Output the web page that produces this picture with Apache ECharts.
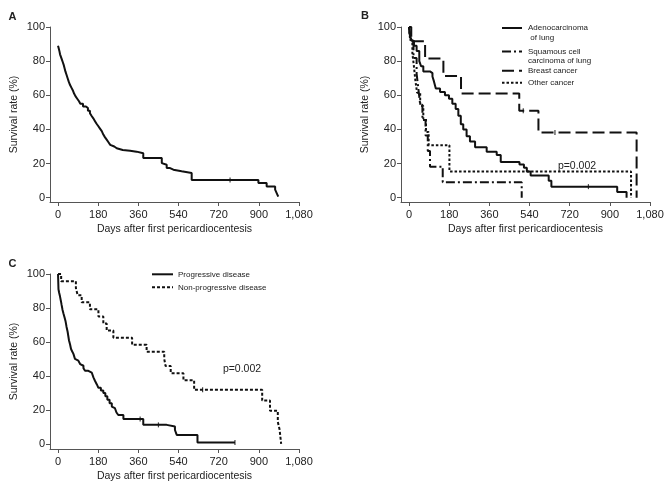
<!DOCTYPE html>
<html>
<head>
<meta charset="utf-8">
<script src="https://cdn.jsdelivr.net/npm/echarts@6/dist/echarts.min.js"></script>
<style>html,body{margin:0;padding:0;background:#fff;}#c{width:670px;height:489px;}</style>
</head>
<body>
<div id="c"></div>
<script>
// ---- tick labels ----
const xTicks = [0, 180, 360, 540, 720, 900, 1080];
const yTicks = [0, 20, 40, 60, 80, 100];

// ---- Panel A: all patients ----
const aDays = [0, 3, 6, 9, 13, 17, 21, 25, 29, 33, 38, 43, 48, 54, 60, 66, 72, 78, 86, 94, 100, 112, 125, 134, 143, 150, 158, 165, 172, 180, 188, 196, 203, 210, 218, 226, 234, 242, 252, 263, 290, 323, 352, 382, 465, 472, 487, 502, 517, 554, 599, 614, 898, 935, 973, 980, 987];
const aSurv = [89, 87.5, 86, 84, 82.5, 81, 79.5, 78, 76, 74, 72, 70, 68, 66, 64.5, 63, 61, 59.5, 58, 56.5, 55, 53.5, 52.5, 51, 49.5, 48, 46.5, 45, 43.5, 42, 40.5, 39, 37, 35.5, 34, 32.5, 31, 30, 29, 28, 27.5, 27, 26, 23.2, 20.3, 19.3, 17.4, 16.4, 15.5, 14.5, 10.4, 10.4, 8.6, 6.6, 4.7, 2.7, 0.6];
const aCensDays = [771];
const aCensSurv = [10.4];

// ---- Panel B: by cancer type ----
const bNames = ['Adenocarcinoma\n of lung', 'Squamous cell\ncarcinoma of lung', 'Breast cancer', 'Other cancer'];
const adenoDays = [0, 4, 12, 22, 34, 46, 54, 64, 94, 105, 112, 120, 139, 161, 179, 194, 209, 221, 232, 243, 258, 273, 296, 348, 393, 411, 495, 515, 528, 545, 626, 638, 933, 975];
const adenoSurv = [100, 95, 92, 89, 86, 80, 77, 74, 73, 71, 68, 64, 62, 60, 58, 55, 52, 48, 43, 40, 36, 33, 29.5, 27, 25, 21, 19.5, 17.5, 15.3, 13, 10, 6.5, 3.3, 0];
const squamDays = [0, 8, 20, 34, 42, 50, 60, 74, 84, 94, 151, 505];
const squamSurv = [100, 90.9, 81.8, 72.7, 63.6, 54.5, 45.5, 36.4, 27.3, 18.2, 9.1, 0];
const breastDays = [0, 10, 72, 154, 233, 494, 580, 1020];
const breastSurv = [100, 91.7, 81.5, 71.3, 61.1, 50.9, 38.2, 0];
const otherDays = [0, 5, 15, 22, 28, 36, 50, 64, 76, 88, 181, 995];
const otherSurv = [100, 92.3, 84.6, 76.9, 69.2, 61.5, 53.8, 46.2, 38.5, 30.8, 15.4, 0];
const bCensDays = [804, 512, 654];
const bCensSurv = [6.5, 50.9, 38.2];

// ---- Panel C: by disease status ----
const cNames = ['Progressive disease', 'Non-progressive disease'];
const progDays = [0, 2, 5, 9, 13, 16, 20, 24, 29, 34, 38, 43, 46, 49, 54, 58, 63, 69, 76, 84, 91, 99, 106, 114, 121, 136, 151, 159, 166, 174, 181, 192, 203, 212, 221, 231, 241, 248, 255, 262, 270, 293, 382, 487, 524, 532, 625, 793];
const progSurv = [100, 91, 89, 86.7, 84, 81.8, 79, 76.9, 74.5, 72, 69, 66, 63.5, 61, 58.5, 56, 54.5, 53, 50, 49, 48, 47, 46, 44.5, 43, 42, 41, 39, 37, 35, 33, 31.5, 30, 28, 26, 24, 22, 21, 20, 18.5, 17, 14.7, 11.2, 10.2, 8.2, 5.3, 0.8, 0.8];
const nonDays = [0, 14, 80, 88, 106, 143, 181, 203, 218, 248, 332, 397, 476, 482, 505, 562, 610, 915, 950, 985, 993, 1000];
const nonSurv = [100, 95.8, 91.7, 87.5, 83.3, 79.2, 75, 70.8, 66.7, 62.5, 58.3, 54.2, 50, 45.8, 41.6, 37.5, 31.8, 25.5, 19.5, 13, 8.5, 0];
const cCensDays = [368, 450, 793, 648];
const cCensSurv = [14.7, 11.2, 0.8, 31.8];

const pText = 'p=0.002';

// ---- styles ----
const FONT = 'Liberation Sans, Arial, sans-serif';
const INK = '#111';
const TXT = '#222';
const AX = '#555';
const dashes = { solid: 'solid', squam: [9, 3, 2, 3], breast: [12, 5], other: [2.5, 2], nonprog: [3, 2] };

function pairs(d, s) { return d.map((v, i) => [v, s[i]]); }

function mkX(gi) {
  return {
    gridIndex: gi, type: 'value', min: -36, max: 1080,
    axisLine: { show: true, onZero: false, lineStyle: { color: AX, width: 1 } },
    axisTick: { show: true, customValues: xTicks, length: 4, lineStyle: { color: AX } },
    axisLabel: { customValues: xTicks, formatter: v => v.toLocaleString('en-US'), fontSize: 11, color: TXT, margin: 7, fontFamily: FONT },
    splitLine: { show: false },
    name: 'Days after first pericardiocentesis', nameLocation: 'middle', nameGap: 22,
    nameTextStyle: { fontSize: 10.5, color: TXT, fontFamily: FONT }
  };
}
function mkY(gi, mn) {
  return {
    gridIndex: gi, type: 'value', min: mn, max: 100,
    axisLine: { show: true, onZero: false, lineStyle: { color: AX, width: 1 } },
    axisTick: { show: true, customValues: yTicks, length: 4, lineStyle: { color: AX } },
    axisLabel: { customValues: yTicks, fontSize: 11, color: TXT, margin: 5, fontFamily: FONT },
    splitLine: { show: false },
    name: 'Survival rate (%)', nameLocation: 'middle', nameGap: 30,
    nameTextStyle: { fontSize: 10.5, color: TXT, fontFamily: FONT }
  };
}
function km(name, gi, d, s, dash) {
  return {
    name, type: 'line', step: 'end', xAxisIndex: gi, yAxisIndex: gi, symbol: 'none',
    data: pairs(d, s), lineStyle: { color: INK, width: 2, type: dash }, silent: true, z: 3
  };
}
function cens(gi, d, s) {
  return {
    type: 'scatter', xAxisIndex: gi, yAxisIndex: gi, symbol: 'rect', symbolSize: [1.2, 5],
    itemStyle: { color: INK }, data: pairs(d, s), silent: true, z: 4
  };
}

function legendItem(x, y, dash, label, twoLines) {
  const items = [{
    type: 'line', shape: { x1: x, y1: y, x2: x + 20, y2: y },
    style: { stroke: INK, lineWidth: 2, lineDash: dash === 'solid' ? null : dash }
  }];
  items.push({
    type: 'text', x: x + 26, y: twoLines ? y - 4.85 : y,
    style: { text: label, font: '8px ' + FONT, fill: TXT, lineHeight: 9.7, verticalAlign: twoLines ? 'top' : 'middle' }
  });
  return items;
}

const graphics = [].concat(
  legendItem(502, 28, dashes.solid, bNames[0], true),
  legendItem(502, 51.5, dashes.squam, bNames[1], true),
  legendItem(502, 70.7, dashes.breast, bNames[2], false),
  legendItem(502, 82.7, dashes.other, bNames[3], false),
  [{ type: 'line', shape: { x1: 152, y1: 274.3, x2: 173, y2: 274.3 }, style: { stroke: INK, lineWidth: 2 } },
   { type: 'text', x: 178, y: 274.3, style: { text: cNames[0], font: '8px ' + FONT, fill: TXT, verticalAlign: 'middle' } },
   { type: 'line', shape: { x1: 152, y1: 287.3, x2: 173, y2: 287.3 }, style: { stroke: INK, lineWidth: 2, lineDash: dashes.nonprog } },
   { type: 'text', x: 178, y: 287.3, style: { text: cNames[1], font: '8px ' + FONT, fill: TXT, verticalAlign: 'middle' } },
   { type: 'text', x: 577, y: 166, style: { text: pText, font: '10.5px ' + FONT, fill: TXT, align: 'center', verticalAlign: 'middle' } },
   { type: 'text', x: 242, y: 369, style: { text: pText, font: '10.5px ' + FONT, fill: TXT, align: 'center', verticalAlign: 'middle' } },
   { type: 'text', x: 8.5, y: 17, style: { text: 'A', font: 'bold 11px ' + FONT, fill: TXT, verticalAlign: 'middle' } },
   { type: 'text', x: 361, y: 16, style: { text: 'B', font: 'bold 11px ' + FONT, fill: TXT, verticalAlign: 'middle' } },
   { type: 'text', x: 8.5, y: 264, style: { text: 'C', font: 'bold 11px ' + FONT, fill: TXT, verticalAlign: 'middle' } }]
);

const chart = echarts.init(document.getElementById('c'), null, { renderer: 'canvas' });
chart.setOption({
  animation: false,
  backgroundColor: '#fff',
  textStyle: { fontFamily: FONT },
  grid: [
    { left: 50, top: 27, width: 249, height: 175 },
    { left: 401, top: 27, width: 249, height: 175 },
    { left: 50, top: 274, width: 249, height: 175 }
  ],
  xAxis: [mkX(0), mkX(1), mkX(2)],
  yAxis: [mkY(0, -2.5), mkY(1, -2.5), mkY(2, -3)],
  series: [
    km('All patients', 0, aDays, aSurv, dashes.solid),
    cens(0, aCensDays, aCensSurv),
    km(bNames[0], 1, adenoDays, adenoSurv, dashes.solid),
    km(bNames[1], 1, squamDays, squamSurv, dashes.squam),
    km(bNames[2], 1, breastDays, breastSurv, dashes.breast),
    km(bNames[3], 1, otherDays, otherSurv, dashes.other),
    cens(1, bCensDays, bCensSurv),
    km(cNames[0], 2, progDays, progSurv, dashes.solid),
    km(cNames[1], 2, nonDays, nonSurv, dashes.nonprog),
    cens(2, cCensDays, cCensSurv)
  ],
  graphic: graphics
});
</script>
</body>
</html>
